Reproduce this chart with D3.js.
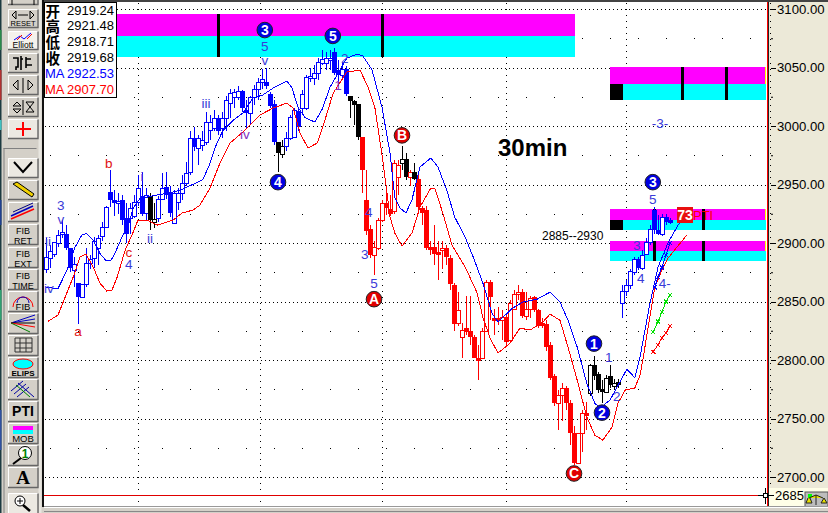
<!DOCTYPE html>
<html><head><meta charset="utf-8">
<script src="https://cdn.jsdelivr.net/npm/d3@7/dist/d3.min.js"></script>
<style>html,body{margin:0;padding:0;background:#d4d0c8;overflow:hidden}svg{display:block}text{font-family:"Liberation Sans",Arial,sans-serif}</style>
</head><body><svg id="c" width="828" height="513"></svg>
<script>
// [open, high, low, close]
const ohlc = [
[2878,2904,2874,2888],[2887,2898,2879,2893],[2891,2901,2888,2901],[2900,2911,2897,2907],[2908,2920,2904,2909],
[2908,2915,2894,2896],[2896,2896,2875,2879],[2877,2888,2862,2882],[2866,2866,2831,2854],[2854,2865,2854,2865],
[2865,2896,2862,2883],[2883,2890,2878,2886],[2887,2905,2879,2902],[2896,2907,2881,2904],[2906,2918,2902,2914],
[2914,2932,2913,2931],[2944,2962,2931,2937],[2937,2945,2923,2934],[2934,2943,2925,2936],[2937,2941,2915,2920],
[2921,2934,2900,2908],[2921,2934,2908,2930],[2923,2941,2921,2935],[2935,2958,2932,2947],[2940,2961,2923,2925],
[2926,2947,2920,2941],[2940,2943,2911,2920],[2918,2934,2913,2920.5],[2921,2940,2918,2938],[2938,2960,2937,2947],
[2948,2961,2938,2941],[2943,2949,2922,2926],[2917,2945,2917,2943],[2935,2947,2928,2943],[2943,2958,2937,2951],
[2951,2969,2949,2960],[2961,2996,2958,2990],[2990,2999,2979,2982],[2981,2992,2967,2990],[2984,2996,2979,2988],
[2986,3012,2984,3003],[2997,3009,2988,3003],[2998,3014,2996,3007],[3007,3009,2992,2996],[2998,3012,2990,3007],
[3007,3026,2996,3022],[3020,3032,3007,3028],[3025,3032,3015,3029],[3025,3034,3022,3030],[3030,3031,3012,3015],
[3014,3022,2998,3011],[3011,3026,3001,3025],[3025,3035,3018,3032],[3032,3041,3022,3038],[3038,3049,3032,3040],
[3038,3050,3032,3034],[3027,3029,3015,3017],[3019,3022,2984,2986],[2986,2986,2961,2977],[2976,2988,2973,2983],
[2983,2995,2979,2990],[2990,3009,2988,3008],[2991,3015,2990,3014],[3013,3015,2996,2999],[3015,3031,3009,3027],
[3015,3044,3014,3042],[3041,3050,3038,3043],[3041,3052,3035,3045],[3045,3058,3039,3055],[3054,3065,3052,3057],
[3054,3063,3048,3058],[3056,3065,3048,3058],[3063,3067,3044,3045],[3048,3056,3035,3044],[3044,3055,3039,3049],
[3049,3051,3026,3027],[3026,3026,3007,3021],[3021,3022,3001,3018],[3019,3019,2988,2991],[2991,2991,2943,2962],
[2937,2962,2907,2910],[2912,2915,2887,2890],[2890,2902,2873,2897],[2896,2921,2894,2920],[2920,2937,2918,2934],
[2934,2945,2924,2930],[2929,2941,2923,2925],[2927,2971,2925,2968],[2956,2971,2941,2967],[2968,2983,2962,2972],
[2972,2977,2954,2956],[2956,2962,2949,2961],[2961,2968,2954,2955],[2955,2958,2926,2931],[2930,2932,2915,2926],
[2928,2932,2894,2896],[2897,2902,2890,2896],[2897,2915,2881,2891],[2892,2902,2868,2890],[2894,2902,2878,2896],
[2896,2898,2881,2888],[2887,2890,2860,2865],[2864,2866,2825,2831],[2832,2858,2829,2843],[2820,2832,2802,2826],
[2827,2855,2821,2824],[2825,2855,2813,2820],[2820,2821,2802,2802],[2802,2813,2783,2801],[2802,2827,2802,2825],
[2825,2868,2824,2867],[2867,2868,2834,2854],[2836,2844,2821,2834],[2836,2845,2830,2834],[2834,2843,2817,2837],
[2837,2839,2813,2815],[2817,2851,2815,2849],[2844,2860,2843,2856],[2856,2864,2851,2858],[2858,2861,2836,2838],
[2838,2858,2834,2844],[2844,2855,2836,2853],[2854,2855,2841,2843],[2843,2844,2827,2829],[2832,2836,2827,2829],
[2831,2834,2808,2811],[2813,2815,2783,2785],[2786,2788,2761,2763],[2763,2774,2740,2770],[2770,2780,2748,2776],
[2776,2778,2757,2763],[2763,2766,2727,2738],[2738,2744,2710,2712],[2712,2738,2711,2738],[2738,2757,2721,2755],
[2755,2764,2740,2754],[2772,2797,2769,2796],[2796,2803,2783,2786],[2788,2790,2772,2774],[2775,2783,2763,2773],
[2773,2787,2772,2785],[2786,2796,2776,2779],[2778,2784,2774,2780],[2781,2784,2776,2779],[2849,2864,2836,2859],
[2859,2868,2855,2864],[2864,2878,2861,2876],[2875,2888,2873,2886],[2886,2888,2877,2879],[2879,2894,2877,2890],
[2891,2904,2890,2901],[2901,2915,2898,2912],[2928,2931,2908,2911],[2911,2924,2907,2908],[2908,2925,2906,2922],
[2922,2925,2915,2918],[2920,2921,2916,2918]];
const blackBars = [26,27,58,59,76,77,78,89,90,92,136,137,138,139,140,141,142,143];
const redRuns = [[79,88],[91,91],[93,135]];

// [bar index, price]
const maBlue = [[0,2862],[3,2861],[4,2868],[5.5,2879],[7.2,2896],[9,2907],[10.2,2908],[11.8,2902.5],[13.5,2891],[15,2885],[16.2,2885],[17.2,2891],[19,2905],[20.5,2914],[21.8,2930],[23.5,2938],[27.8,2941],[31,2943],[33.5,2945],[36,2949],[39.2,2954],[41,2968],[42.2,2981],[44.2,2996],[46.8,3005],[49.2,3011],[51.8,3024],[54.2,3026.5],[56.8,3032.5],[60.2,3038.5],[61.5,3032.5],[63,3016],[64.8,3007],[67.2,3003.4],[69,3014],[71,3033],[73.5,3048],[75.2,3058],[77.8,3061.5],[79.2,3060],[81.5,3048],[84,3016],[86,2977],[87.2,2939],[88.5,2930],[90,2925.6],[91.5,2937],[93.5,2965],[96.2,2972.6],[98,2965],[100.2,2945],[102.2,2922],[104.8,2905],[106.8,2888],[109.2,2866],[111.5,2840],[113,2832.4],[116.5,2844],[119.2,2849.5],[122.8,2852],[126,2858],[128.5,2849.5],[130.5,2834],[132.8,2811],[135.2,2780],[137.2,2763],[138.5,2759],[141,2765.7],[142.8,2777],[145.2,2792],[147.2,2785],[148.5,2802.5],[151,2848.6],[153,2879.4],[155.5,2900],[158,2915.3],[161,2924.7]];
const maRed = [[0.5,2833],[3,2838.4],[4.2,2848.6],[6.8,2870.9],[8.5,2888],[10,2890.5],[11.8,2879.4],[13.5,2865.7],[15.2,2858.9],[16.5,2859.8],[17.8,2870.9],[19.8,2894],[21.8,2909.3],[23,2919.6],[25.2,2919.6],[27.8,2915.3],[31.8,2919.6],[34,2925.6],[36.8,2928.2],[38.5,2932.4],[41,2947],[43.5,2968.3],[46,2985.4],[49.8,2996.5],[53.5,3009.4],[56.8,3015.4],[60.2,3019.6],[61.8,3015.4],[63.5,2994],[65.5,2981.2],[67.8,2985.4],[69.2,2999],[71.8,3028.2],[75.2,3046.1],[78.5,3047.8],[80.5,3033.3],[82.2,3016.2],[84.2,2970.9],[86,2922.2],[87.2,2908.5],[89,2897.4],[91.5,2908.5],[93.5,2930.7],[96.2,2947],[97.2,2947],[99.2,2925.6],[101.5,2898.2],[104.8,2879.4],[107.8,2857.2],[109.2,2836.7],[111,2818.7],[113,2805.9],[116,2814.4],[118.5,2827.2],[121,2825.6],[124.2,2832.4],[126,2839.2],[128.5,2834],[130.5,2811],[132.8,2782.8],[135.2,2751.2],[137.2,2735.8],[139.2,2731.5],[141.5,2742.6],[143,2763.1],[144.8,2774.3],[147.2,2776],[148.5,2787],[149.2,2800],[152.2,2862.3],[154,2876.9],[155.5,2887],[160.2,2906.8]];
const forecastGreen = [[151.8,2824],[153,2833],[154,2841],[155,2850],[156,2855.5]];
const forecastRed = [[151.8,2807],[153,2813],[154,2819],[155,2823],[156,2829]];
const forecastBlue = [[152.2,2862],[153,2871],[154,2879],[155,2889.5],[156,2900]];

// [start bar, end bar, top, middle, bottom]
const zones = [[-1,132.25,3095.7,3076.9,3059],[141,180,3050.4,3035.9,3022.2],[141,180,2929,2919.6,2911],[141,180,2901.6,2893,2884.5]];
const zoneBars = [[0,43],[0,84],[1,159],[1,170],[2,152],[2,164.25],[3,152],[3,164.25]];
const priceTicks = [3100,3050,3000,2950,2900,2850,2800,2750,2700];
const midTicks = [3075,3025,2975,2925,2875,2825,2775,2725,2675];
const gridBars = [23,53.5,84,115,145];

// [bar, price, text, colour]
const waveLabels = [
[0.5,2901,"ii","#3a3ad8"],[3.7,2932,"3","#3a3ad8"],[3.7,2920,"v","#3a3ad8"],[0.7,2861,"iv","#3a3ad8"],
[8,2824,"a","#e01010"],[15.7,2968,"b","#e01010"],[20.7,2892,"c","#e01010"],[20.7,2882,"4","#3a3ad8"],
[24,2957,"i","#3a3ad8"],[26,2904,"ii","#3a3ad8"],[40,3019,"iii","#3a3ad8"],[49.7,2993,"iv","#8030c0"],
[54.7,3068,"5","#3a3ad8"],[54.7,3056,"v","#3a3ad8"],[73,3035,"1","#8030c0"],[74.7,3058,"2","#3a3ad8"],
[82,2865,"5","#3a3ad8"],[79.7,2890,"3","#3a3ad8"],[80.7,2926,"4","#3a3ad8"],
[140.7,2802,"1","#3a3ad8"],[142.7,2769,"2","#3a3ad8"],[151.7,2937,"5","#3a3ad8"],
[147.7,2898,"3","#3a3ad8"],[148.7,2870,"4","#3a3ad8"],[154.7,2865,"4-","#3a3ad8"],[153.5,3002,"-3-","#3a3ad8"]];
// [bar, price, text, fill]
const circleLabels = [[54.7,3082,"3","#0000e0"],[71.7,3077,"5","#0000e0"],[58,2952,"4","#0000e0"],[82,2852,"A","#e00000"],
[89,2992,"B","#e00000"],[132,2703,"C","#e00000"],[137,2814,"1","#0000e0"],[139,2755,"2","#0000e0"],[151.7,2952,"3","#0000e0"]];

const quoteRows = [["开","2919.24","#000"],["高","2921.48","#000"],["低","2918.71","#000"],["收","2919.68","#000"],["MA","2922.53","#0000ff"],["MA","2907.70","#ff0000"]];

const svg = d3.select("#c");
const x = d3.scaleLinear().domain([0,156]).range([46,670]);
const y = d3.scaleLinear().domain([2700,3100]).range([477,9]);
const left=44,right=767,bottom=507;

// plot
svg.append("rect").attr("x",0).attr("y",0).attr("width",828).attr("height",513).attr("fill","#d4d0c8");
svg.append("rect").attr("x",0).attr("y",0).attr("width",828).attr("height",2).attr("fill","#444");
svg.append("rect").attr("x",left).attr("y",2).attr("width",right-left).attr("height",bottom-2).attr("fill","#fff");
svg.append("rect").attr("x",42).attr("y",0).attr("width",2).attr("height",bottom).attr("fill","#111");

const grid = svg.append("g").attr("stroke","#000").attr("shape-rendering","crispEdges");
priceTicks.forEach(p=>grid.append("line").attr("x1",left+1).attr("x2",right).attr("y1",Math.round(y(p))+.5).attr("y2",Math.round(y(p))+.5).attr("stroke-dasharray","1 3"));
midTicks.forEach(p=>grid.append("line").attr("x1",50).attr("x2",right).attr("y1",Math.round(y(p))+.5).attr("y2",Math.round(y(p))+.5).attr("stroke-dasharray","1 27"));
gridBars.forEach(b=>grid.append("line").attr("x1",Math.round(x(b))+.5).attr("x2",Math.round(x(b))+.5).attr("y1",3).attr("y2",bottom).attr("stroke-dasharray","1 5"));

// zones
const zg = svg.append("g").attr("shape-rendering","crispEdges");
zones.forEach((z,i)=>{
  const a=Math.max(x(z[0]),left), w=Math.min(x(z[1]),766)-a;
  zg.append("rect").attr("x",a).attr("width",w).attr("y",y(z[2])).attr("height",y(z[3])-y(z[2])).attr("fill","#ff00ff");
  zg.append("rect").attr("x",a).attr("width",w).attr("y",y(z[3])).attr("height",y(z[4])-y(z[3])).attr("fill","#00ffff");
  if(i>0){
    zg.append("rect").attr("x",765).attr("width",1).attr("y",y(z[2])).attr("height",y(z[3])-y(z[2])).attr("fill","#ffff00");
    if(i<3) zg.append("rect").attr("x",a).attr("width",x(144.25)-a).attr("y",y(z[3])).attr("height",y(z[4])-y(z[3])).attr("fill","#000");
  }
});
zoneBars.forEach(([i,b])=>{const z=zones[i];
  zg.append("rect").attr("x",Math.round(x(b))-1).attr("width",3).attr("y",y(z[2])).attr("height",y(z[4])-y(z[2])).attr("fill","#000");});

// candles
const colourOf = i => blackBars.includes(i) ? "#000" : redRuns.some(r=>i>=r[0]&&i<=r[1]) ? "#ff0000" : "#0000ff";
const cg = svg.append("g").attr("shape-rendering","crispEdges");
ohlc.forEach((d,i)=>{
  const cx=Math.round(x(i)), col=colourOf(i), [o,h,l,c]=d, up=c>o;
  cg.append("line").attr("x1",cx+.5).attr("x2",cx+.5).attr("y1",y(h)).attr("y2",y(l)).attr("stroke",col);
  const t=Math.round(y(Math.max(o,c))), b=Math.round(y(Math.min(o,c)));
  if(up) cg.append("rect").attr("x",cx-1.5).attr("width",4).attr("y",t+.5).attr("height",Math.max(b-t,1)).attr("fill","#fff").attr("stroke",col);
  else cg.append("rect").attr("x",cx-2).attr("width",5).attr("y",t).attr("height",Math.max(b-t,3)).attr("fill",col);
});

// moving averages
const line=d3.line().x(d=>x(d[0])).y(d=>y(d[1]));
svg.append("path").attr("d",line(maBlue)).attr("fill","none").attr("stroke","#0000ff").attr("stroke-width",1).attr("shape-rendering","crispEdges");
svg.append("path").attr("d",line(maRed)).attr("fill","none").attr("stroke","#ff0000").attr("stroke-width",1).attr("shape-rendering","crispEdges");

// forecast lines with x marks
[[forecastGreen,"#00e000"],[forecastRed,"#ff0000"],[forecastBlue,"#0000ff"]].forEach(([s,col])=>{
  svg.append("path").attr("d",line(s)).attr("fill","none").attr("stroke",col).attr("shape-rendering","crispEdges");
  s.forEach(d=>svg.append("path").attr("transform",`translate(${x(d[0])},${y(d[1])})`).attr("d","M-2,-2L2,2M-2,2L2,-2").attr("stroke",col).attr("shape-rendering","crispEdges"));
});

// wave labels
svg.append("g").selectAll("text").data(waveLabels).join("text")
  .attr("x",d=>x(d[0])).attr("y",d=>y(d[1])).attr("text-anchor","middle").attr("dominant-baseline","central")
  .attr("font-size",13.5).attr("fill",d=>d[3]).text(d=>d[2]);
const cl=svg.append("g").selectAll("g").data(circleLabels).join("g").attr("transform",d=>`translate(${x(d[0])},${y(d[1])})`);
cl.append("circle").attr("r",7.8).attr("fill",d=>d[3]).attr("stroke","#222").attr("stroke-width",1);
cl.append("text").attr("text-anchor","middle").attr("dominant-baseline","central").attr("font-size",14).attr("font-weight","bold").attr("fill","#fff").text(d=>d[2]);

svg.append("text").attr("x",498).attr("y",156).attr("font-size",24).attr("font-weight","bold").attr("fill","#000").text("30min");
svg.append("text").attr("x",542).attr("y",240).attr("font-size",12).attr("fill","#000").text("2885--2930");

// PTI tag
svg.append("rect").attr("x",677).attr("y",207).attr("width",16).attr("height",16).attr("fill","#e81010");
svg.append("text").attr("x",685).attr("y",220).attr("text-anchor","middle").attr("font-size",14).attr("font-weight","bold").attr("fill","#fff").text("73");
svg.append("text").attr("x",693).attr("y",220).attr("font-size",13).attr("fill","#ff0000").text("PTI");

// quote box
const qb=svg.append("g");
qb.append("rect").attr("x",44.5).attr("y",2.5).attr("width",72).attr("height",95).attr("fill","#fff").attr("stroke","#000");
quoteRows.forEach((r,i)=>{
  const yy=10+i*15.9;
  qb.append("text").attr("x",r[0]==="MA"?45:45.5).attr("y",yy).attr("dominant-baseline","central").attr("font-size",r[0]==="MA"?13:14.5)
    .attr("style",r[0]==="MA"?null:'font-family:"Noto Sans CJK SC"').attr("font-weight",r[0]==="MA"?"normal":"bold").attr("fill",r[2]).text(r[0]);
  qb.append("text").attr("x",114).attr("y",yy).attr("text-anchor","end").attr("dominant-baseline","central").attr("font-size",13).attr("fill",r[2]).text(r[1]);
});

// right axis
svg.append("rect").attr("x",769).attr("y",2).attr("width",59).attr("height",bottom-2).attr("fill","#ece9d8");
svg.append("rect").attr("x",767).attr("y",2).attr("width",1).attr("height",505).attr("fill","#ff0000");
svg.append("rect").attr("x",768).attr("y",2).attr("width",1).attr("height",505).attr("fill","#222");
const axis=svg.append("g").attr("transform","translate(771,0)").call(d3.axisRight(y).tickValues(priceTicks).tickSize(5).tickPadding(1).tickFormat(d3.format(".2f")));
axis.select(".domain").remove();
axis.selectAll("text").attr("font-size",13.2).attr("style",'font-family:"Liberation Sans",Arial,sans-serif').attr("fill","#000");
axis.selectAll("line").attr("shape-rendering","crispEdges");
svg.append("g").attr("transform","translate(771,0)").call(d3.axisRight(y).tickValues(midTicks.slice(0,-1)).tickSize(2).tickFormat("")).select(".domain").remove();
svg.append("line").attr("x1",770.5).attr("x2",770.5).attr("y1",3).attr("y2",bottom).attr("stroke","#000").attr("stroke-dasharray","1 5").attr("shape-rendering","crispEdges");

// cursor line and price box
svg.append("line").attr("x1",left).attr("x2",right).attr("y1",495.5).attr("y2",495.5).attr("stroke","#e00000").attr("shape-rendering","crispEdges");
svg.append("rect").attr("x",769).attr("y",488).attr("width",59).attr("height",19).attr("fill","#ffffe8");
svg.append("text").attr("x",775).attr("y",500).attr("font-size",13).attr("fill","#000").text("2685");
const cr=svg.append("g").attr("transform","translate(765.5,495.5)").attr("stroke","#000").attr("shape-rendering","crispEdges");
cr.append("path").attr("d","M-8,0H-2M2,0H8M0,-8V-2M0,2V8").attr("fill","none");
cr.append("rect").attr("x",-2).attr("y",-2).attr("width",4).attr("height",4).attr("fill","#fff");
// balance icon
const bi=svg.append("g").attr("transform","translate(805,492)");
bi.append("rect").attr("width",23).attr("height",15).attr("fill","#bdbdbd").attr("stroke","#555");
bi.append("rect").attr("x",3).attr("y",2).attr("width",4).attr("height",4).attr("fill","#00ff00");
bi.append("path").attr("d","M4,6L11,3L18,6M11,3V13M3,6L1,11H7L5,6M19,6L16,11H22Z").attr("stroke","#222").attr("fill","#e8e000");

// bottom edge
svg.append("rect").attr("x",44).attr("y",506).attr("width",784).attr("height",1).attr("fill","#999");
svg.append("rect").attr("x",44).attr("y",507).attr("width",784).attr("height",1).attr("fill","#fff");
svg.append("rect").attr("x",44).attr("y",508).attr("width",784).attr("height",5).attr("fill","#d4d0c8");
svg.append("rect").attr("x",44).attr("y",511).attr("width",784).attr("height",1).attr("fill","#888");

// toolbar
const tb=svg.append("g");
tb.append("rect").attr("x",0).attr("y",0).attr("width",42).attr("height",513).attr("fill","#d4d0c8");
tb.append("rect").attr("x",0).attr("y",0).attr("width",1.5).attr("height",513).attr("fill","#1c3a40");
[[30,20,"#2a8a4a"],[70,30,"#b03030"],[120,10,"#40c0c0"],[200,25,"#204090"],[290,30,"#30a070"],[410,40,"#3050a0"]].forEach(s=>tb.append("rect").attr("x",0).attr("y",s[0]).attr("width",1.5).attr("height",s[1]).attr("fill",s[2]));
tb.append("rect").attr("x",38.5).attr("y",0).attr("width",3).attr("height",513).attr("fill","#e8e6e0");
tb.append("rect").attr("x",3.5).attr("y",148).attr("width",1).attr("height",365).attr("fill","#808080");
tb.append("rect").attr("x",3.5).attr("y",148).attr("width",33).attr("height",1).attr("fill","#808080");
function btn(y0,h,bg){
  const g=tb.append("g").attr("transform",`translate(8,${y0})`);
  g.append("rect").attr("width",30).attr("height",h).attr("fill",bg||"#d4d0c8");
  g.append("path").attr("d",`M0.5,${h}V.5H30`).attr("fill","none").attr("stroke","#fff");
  g.append("path").attr("d",`M30,.5V${h-.5}H0`).attr("fill","none").attr("stroke","#666").attr("stroke-width",1.4);
  return g;
}
function lab(g,t,yy,fs,w){g.append("text").attr("x",15).attr("y",yy).attr("text-anchor","middle").attr("font-size",fs).attr("font-weight",w||"normal").attr("fill","#000").text(t);}
let g;
g=btn(-14,19); g.append("path").attr("d","M4,14V19M26,14V19").attr("stroke","#000");
g=btn(9,19); lab(g,"RESET",17,7.5); g.append("path").attr("d","M4,6L8,2V10ZM10,6H20M26,6L22,2V10Z").attr("fill","#d4d0c8").attr("stroke","#000");
g=btn(31,19,"#f4f2ec"); lab(g,"Elliott",17,8.5); g.append("path").attr("d","M6,9L12,5L16,8L23,2").attr("fill","none").attr("stroke","#0000ff"); g.append("path").attr("d","M9,9L14,4M19,8L24,3").attr("stroke","#ff0000");
g=btn(53,20); g.append("path").attr("d","M5,5H10V14H8V17M13,3V17M13,6H15M18,4V15M18,6H23M18,12H24").attr("fill","none").attr("stroke","#000").attr("stroke-width",1.6);
g=btn(75,20); g.append("path").attr("d","M5,10L10,5V15ZM15,3V18M20,5V15L25,10Z").attr("fill","#d4d0c8").attr("stroke","#000");
g=btn(97,20); g.append("path").attr("d","M5,9L9,5L13,9ZM5,12H13L9,16ZM15,3V18M18,5H26L22,10L26,15H18L22,10Z").attr("fill","#d4d0c8").attr("stroke","#000");
g=btn(119,20,"#ece9e2"); g.append("path").attr("d","M15,3V17M8,10H23").attr("stroke","#ff0000").attr("stroke-width",2);
g=btn(158,20,"#ece9e2"); g.append("path").attr("d","M6,4L15,14L24,4").attr("fill","none").attr("stroke","#000").attr("stroke-width",2);
g=btn(180,20); g.append("path").attr("d","M5,4L9,2L26,14L24,17Z").attr("fill","#f0d000").attr("stroke","#000");
g=btn(202,20); g.append("path").attr("d","M3,14L25,4").attr("stroke","#0000c0").attr("stroke-width",1.5); g.append("path").attr("d","M3,17L26,7").attr("stroke","#ff0000").attr("stroke-width",1.5); g.append("path").attr("d","M5,10L25,1").attr("stroke","#000080");
g=btn(224,21); lab(g,"FIB",9.5,9); lab(g,"RET",20,9);
g=btn(247,21); lab(g,"FIB",9.5,9); lab(g,"EXT",20,9);
g=btn(269,21); lab(g,"FIB",9.5,9); lab(g,"TIME",20,9);
g=btn(291,21); lab(g,"FIB",19,9.5); g.append("path").attr("d","M5,16A10,10 0 0 1 25,16").attr("fill","none").attr("stroke","#ff0000"); g.append("path").attr("d","M9,12A6,6 0 0 1 21,12").attr("fill","none").attr("stroke","#0000c0");
g=btn(313,21); g.append("path").attr("d","M3,10L27,2M3,10L27,6").attr("stroke","#0000c0"); g.append("path").attr("d","M3,10H27").attr("stroke","#000"); g.append("path").attr("d","M3,10L27,14").attr("stroke","#ff0000"); g.append("path").attr("d","M3,10L22,19").attr("stroke","#008000");
g=btn(335,21); g.append("path").attr("d","M7,3H24V17H7ZM7,8H24M7,13H24M12,3V17M18,3V17").attr("fill","#d4d0c8").attr("stroke","#333");
g=btn(357,21); lab(g,"ELIPS",19,8,"bold"); g.append("ellipse").attr("cx",15).attr("cy",7).attr("rx",10).attr("ry",5).attr("fill","#00ffff").attr("stroke","#ff0000");
g=btn(379,21); g.append("path").attr("d","M3,12L15,2M6,15L18,5M9,18L21,8").attr("stroke","#0000a0"); g.append("path").attr("d","M10,4L26,18").attr("stroke","#0000a0"); g.append("path").attr("d","M8,6L22,18").attr("stroke","#008000");
g=btn(401,21); lab(g,"PTI",15,14,"bold");
g=btn(423,21); lab(g,"MOB",19,9.5); g.append("rect").attr("x",5).attr("y",3).attr("width",20).attr("height",4).attr("fill","#ff00ff"); g.append("rect").attr("x",5).attr("y",7).attr("width",20).attr("height",4).attr("fill","#00ffff");
g=btn(445,21); g.append("circle").attr("cx",17).attr("cy",8).attr("r",6.5).attr("fill","#fff").attr("stroke","#000"); g.append("path").attr("d","M13,13L5,19").attr("stroke","#000").attr("stroke-width",2); g.append("text").attr("x",17).attr("y",13).attr("text-anchor","middle").attr("font-size",12).attr("font-weight","bold").attr("fill","#008000").text("1");
g=btn(467,21); g.append("text").attr("x",15).attr("y",17).attr("text-anchor","middle").attr("font-size",19).attr("font-weight","bold").attr("style","font-family:'Liberation Serif',serif").attr("fill","#000").text("A");
g=btn(493,22,"#ece9e2"); g.append("circle").attr("cx",12).attr("cy",8).attr("r",5).attr("fill","#fff").attr("stroke","#000"); g.append("path").attr("d","M15,12L22,18").attr("stroke","#000").attr("stroke-width",2.5); g.append("path").attr("d","M9,8H15M12,5V11").attr("stroke","#000");
</script></body></html>
